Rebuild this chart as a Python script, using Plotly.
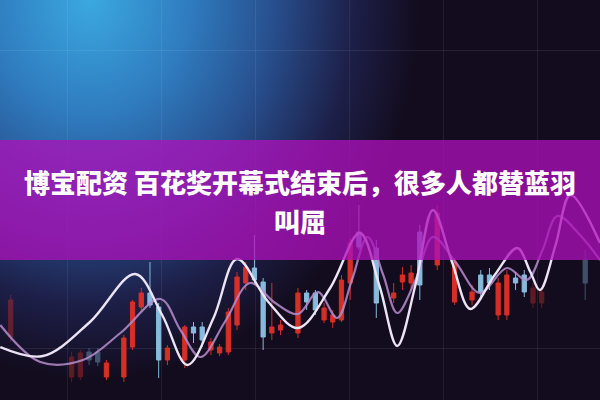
import plotly.graph_objects as go
from urllib.parse import quote

# ---------------- data ----------------
# bright candles: index, open, high, low, close
c_idx   = [12, 14, 15, 16, 17, 18, 19, 21, 22, 23, 24, 25, 26, 27, 28, 29, 30, 31, 32, 34,
           35, 36, 37, 38, 39, 40, 41, 43, 45, 46, 47, 48, 50, 52, 54, 55, 56, 57, 58, 59, 60]
c_open  = [23, 23, 53, 93, 107, 93, 40, 40, 73, 73, 50, 47, 48, 75, 117, 132, 118, 67, 70, 67,
           107, 107, 80, 78, 80, 117, 168, 152, 102, 118, 117, 168, 135, 98, 100, 125, 125, 85, 85, 122, 125]
c_high  = [40, 65, 100, 112, 138, 97, 55, 75, 78, 78, 62, 56, 92, 128, 138, 165, 122, 117, 80, 112,
           110, 110, 97, 90, 125, 162, 195, 160, 117, 133, 135, 175, 195, 142, 115, 130, 132, 122, 130, 128, 130]
c_low   = [20, 18, 50, 88, 92, 22, 35, 32, 57, 53, 45, 44, 45, 70, 110, 115, 50, 60, 65, 62,
           90, 85, 77, 72, 78, 100, 150, 82, 97, 110, 110, 100, 130, 95, 95, 100, 110, 80, 80, 110, 103]
c_close = [37, 62, 98, 107, 95, 40, 52, 73, 67, 60, 58, 53, 88, 123, 133, 120, 63, 73, 75, 107,
           98, 90, 92, 85, 120, 157, 153, 97, 107, 125, 127, 115, 187, 138, 108, 108, 117, 117, 125, 117, 108]

# faded candles at the edges
f_idx   = [1, 8, 9, 10, 11, 61, 62, 67]
f_open  = [63, 23, 23, 48, 48, 97, 97, 140]
f_high  = [105, 48, 50, 52, 52, 117, 113, 150]
f_low   = [58, 18, 20, 35, 34, 92, 92, 100]
f_close = [100, 43, 47, 40, 38, 112, 108, 117]

# fast moving average (white)
ma1_x = [-0.2, 4.7, 10.1, 15.3, 18.4, 21.3, 24.3, 27.0, 30.6, 34.0, 37.7, 41.1, 43.4,
         45.4, 47.5, 49.5, 51.7, 53.8, 56.6, 59.2, 60.7, 61.8, 63.6, 65.3, 68.7]
ma1_y = [53, 44, 78, 126, 85, 35, 82, 141, 98, 72, 112, 167, 113,
         54, 115, 190, 138, 91, 125, 152, 128, 110, 155, 205, 157]

# slow moving average (lavender)
ma2_x = [-0.2, 4.4, 9.3, 13.6, 18.2, 20.5, 22.8, 25.6, 28.5, 31.4, 34.0, 36.3, 38.5, 40.2,
         42.0, 43.8, 45.4, 47.5, 49.5, 52.1, 54.9, 58.0, 60.3, 62.1, 63.8, 66.4, 68.7]
ma2_y = [75, 38, 40, 67, 101, 70, 43, 78, 117, 97, 86, 108, 82, 120,
         163, 125, 87, 120, 163, 138, 107, 132, 120, 150, 184, 165, 140]

title_line1 = "博宝配资 百花奖开幕式结束后，很多人都替蓝羽"
title_line2 = "叫屈"

RED = "#ea3328"
BLUE = "#94cdf0"

# ---------------- background (gradient as svg image) ----------------
svg = (
    "<svg xmlns='http://www.w3.org/2000/svg' width='600' height='400'>"
    "<defs>"
    "<radialGradient id='g' gradientUnits='userSpaceOnUse' cx='90' cy='0' r='330' "
    "gradientTransform='translate(90 0) scale(1 1.15) translate(-90 0)'>"
    "<stop offset='0' stop-color='#3ba8e0'/>"
    "<stop offset='0.3' stop-color='#2f7cbf'/>"
    "<stop offset='0.55' stop-color='#28508f'/>"
    "<stop offset='0.8' stop-color='#1d1f48'/>"
    "<stop offset='1' stop-color='#130c1e'/>"
    "</radialGradient>"
    "</defs>"
    "<rect width='600' height='400' fill='#130c1c'/>"
    "<rect width='600' height='400' fill='url(#g)'/>"
    "</svg>"
)
bg_uri = "data:image/svg+xml;charset=utf-8," + quote(svg)

fig = go.Figure()

fig.add_trace(go.Candlestick(
    x=f_idx, open=f_open, high=f_high, low=f_low, close=f_close,
    increasing=dict(line=dict(color=RED, width=1), fillcolor=RED),
    decreasing=dict(line=dict(color=BLUE, width=1), fillcolor=BLUE),
    opacity=0.35, showlegend=False, hoverinfo="skip",
))
fig.add_trace(go.Candlestick(
    x=c_idx, open=c_open, high=c_high, low=c_low, close=c_close,
    increasing=dict(line=dict(color=RED, width=1), fillcolor=RED),
    decreasing=dict(line=dict(color=BLUE, width=1), fillcolor=BLUE),
    opacity=0.9, showlegend=False, hoverinfo="skip",
))
fig.add_trace(go.Scatter(
    x=ma2_x, y=ma2_y, mode="lines",
    line=dict(color="#b68ccc", width=2.2, shape="spline", smoothing=1.0),
    opacity=0.85, showlegend=False, hoverinfo="skip",
))
fig.add_trace(go.Scatter(
    x=ma1_x, y=ma1_y, mode="lines",
    line=dict(color="#ece4f4", width=2.4, shape="spline", smoothing=1.0),
    showlegend=False, hoverinfo="skip",
))

fig.update_layout(
    width=600, height=400,
    margin=dict(l=0, r=0, t=0, b=0),
    paper_bgcolor="#130c1c",
    plot_bgcolor="rgba(0,0,0,0)",
    images=[dict(source=bg_uri, xref="paper", yref="paper", x=0, y=1,
                 sizex=1, sizey=1, sizing="stretch", xanchor="left",
                 yanchor="top", layer="below")],
    xaxis=dict(range=[-0.23, 68.7], showticklabels=False, zeroline=False,
               rangeslider=dict(visible=False),
               showgrid=True, gridcolor="rgba(255,255,255,0.07)", gridwidth=1,
               tick0=7.47, dtick=10.8, ticks=""),
    yaxis=dict(range=[0, 400], showticklabels=False, zeroline=False,
               showgrid=True, gridcolor="rgba(255,255,255,0.08)", gridwidth=1,
               tick0=52, dtick=298, ticks=""),
    shapes=[dict(type="rect", xref="paper", yref="paper", x0=0, x1=1,
                 y0=0.35, y1=0.65, fillcolor="rgba(173,15,186,0.77)",
                 line=dict(width=0), layer="above")],
    annotations=[
        dict(text=title_line1, xref="paper", yref="paper", x=0.5, y=0.545,
             xanchor="center", yanchor="middle", showarrow=False,
             font=dict(family="Noto Sans CJK SC", size=26, color="white",
                       weight=900)),
        dict(text=title_line2, xref="paper", yref="paper", x=0.5, y=0.45,
             xanchor="center", yanchor="middle", showarrow=False,
             font=dict(family="Noto Sans CJK SC", size=26, color="white",
                       weight=900)),
    ],
)

fig.write_html(
    "out.html",
    config={"displayModeBar": False, "staticPlot": True},
    post_script="document.body.style.margin='0';document.body.style.overflow='hidden';",
)
